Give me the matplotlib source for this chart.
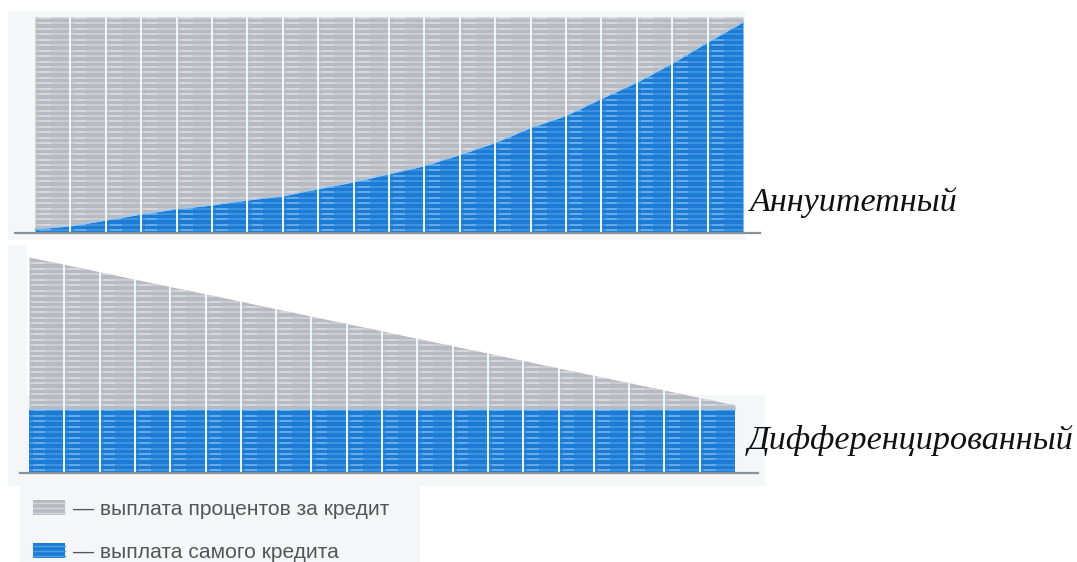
import numpy as np
import matplotlib
matplotlib.use("Agg")
import matplotlib.pyplot as plt
from matplotlib.collections import LineCollection
from matplotlib.patches import Rectangle

# Payment schedule over 20 periods, values at period boundaries,
# expressed as a share of the largest monthly payment.
boundaries = list(range(21))

annuity_total = [1.0] * 21
annuity_principal = [0.019, 0.033, 0.060, 0.088, 0.112, 0.130, 0.153, 0.172,
                     0.205, 0.237, 0.274, 0.312, 0.363, 0.419, 0.488, 0.544,
                     0.623, 0.698, 0.786, 0.884, 0.977]

diff_principal = [0.296] * 21
diff_interest = [0.704, 0.670, 0.636, 0.601, 0.567, 0.533, 0.499, 0.464,
                 0.430, 0.396, 0.362, 0.327, 0.293, 0.259, 0.225, 0.190,
                 0.156, 0.122, 0.088, 0.053, 0.019]

scheme_labels = ["Аннуитетный", "Дифференцированный"]
legend_labels = ["— выплата процентов за кредит", "— выплата самого кредита"]

GRAY = "#b7bac1"
GRAY_STRIPE = "#d4d6da"
BLUE = "#1c7bd4"
BLUE_STRIPE = "#4d9fe4"
AXIS = "#8c9196"
PANEL = "#f5f6f7"

W, H = 1077, 562
fig = plt.figure(figsize=(W / 100, H / 100), dpi=100)
fig.patch.set_facecolor("white")

# background layer in pixel units
bg = fig.add_axes([0, 0, 1, 1], zorder=0)
bg.set_xlim(0, W)
bg.set_ylim(H, 0)
bg.axis("off")
for (x0, y0, x1, y1) in [(8, 11, 745, 240), (8, 395, 765, 486),
                         (8, 245, 27, 400), (20, 482, 420, 562)]:
    bg.add_patch(Rectangle((x0, y0), x1 - x0, y1 - y0, color=PANEL, lw=0))


def px_axes(left, bottom, right, top):
    return fig.add_axes([left / W, 1 - bottom / H, (right - left) / W,
                         (bottom - top) / H], zorder=1)


def texture(ax, poly, base_stripe):
    path = poly.get_paths()[0]
    ys = np.arange(0.0125, 1.0, 0.0252)
    stripes = LineCollection([[(-1, y), (21, y)] for y in ys],
                             colors=base_stripe, linewidths=1.1, alpha=0.9)
    stripes.set_clip_path(path, ax.transData)
    ax.add_collection(stripes)
    hi = LineCollection([[(i + 0.12, y), (i + 0.45, y)]
                         for i in range(20) for y in ys],
                        colors="white", linewidths=1.1, alpha=0.3)
    hi.set_clip_path(path, ax.transData)
    ax.add_collection(hi)


def draw_chart(ax, bottom_vals, top_vals, bottom_color, top_color,
               bottom_stripe, top_stripe):
    x = np.array(boundaries, dtype=float)
    b = np.array(bottom_vals)
    t = b + np.array(top_vals)
    p_top = ax.fill_between(x, b, t, color=top_color, lw=0)
    p_bot = ax.fill_between(x, 0, b, color=bottom_color, lw=0)
    texture(ax, p_top, top_stripe)
    texture(ax, p_bot, bottom_stripe)
    ax.plot(x, b, color="#9cc8ee", lw=1.0)
    ax.vlines(x[1:-1], 0, t[1:-1], colors="#eef8fb", lw=1.4)
    ax.set_ylim(0, 1)
    ax.set_facecolor("none")
    for s in ["top", "left", "right"]:
        ax.spines[s].set_visible(False)
    ax.spines["bottom"].set_color(AXIS)
    ax.spines["bottom"].set_linewidth(1.6)
    ax.set_xticks([])
    ax.set_yticks([])


# annuity: bars span 35..743 px, baseline at 233 px
ax1 = px_axes(15, 233, 760, 17)
ax1.set_xlim(-20 / 35.4, 20 + 17 / 35.4)
annuity_interest = [t - p for t, p in zip(annuity_total, annuity_principal)]
draw_chart(ax1, annuity_principal, annuity_interest, BLUE, GRAY,
           BLUE_STRIPE, GRAY_STRIPE)

# differentiated: bars span 29..735 px, baseline at 473 px
ax2 = px_axes(20, 473, 758, 257)
ax2.set_xlim(-9 / 35.3, 20 + 23 / 35.3)
draw_chart(ax2, diff_principal, diff_interest, BLUE, GRAY,
           BLUE_STRIPE, GRAY_STRIPE)

serif = dict(family="Liberation Serif", style="italic", size=24.6,
             color="#111111", va="baseline", ha="left")
bg.text(750, 211, scheme_labels[0], **serif)
bg.text(748, 449, scheme_labels[1], **serif)

# legend swatches with the same striped look
for (y0, col, stripe), label in zip([(500, GRAY, GRAY_STRIPE),
                                     (543, BLUE, BLUE_STRIPE)], legend_labels):
    bg.add_patch(Rectangle((33, y0), 32, 15, color=col, lw=0))
    for dy in (3, 8, 13):
        bg.plot([33, 65], [y0 + dy, y0 + dy], color=stripe, lw=1.0)
    bg.text(73, y0 + 15, label, family="Liberation Sans", size=15.1,
            color="#555555", va="baseline", ha="left")

fig.savefig("out.png", dpi=100, facecolor="white")
